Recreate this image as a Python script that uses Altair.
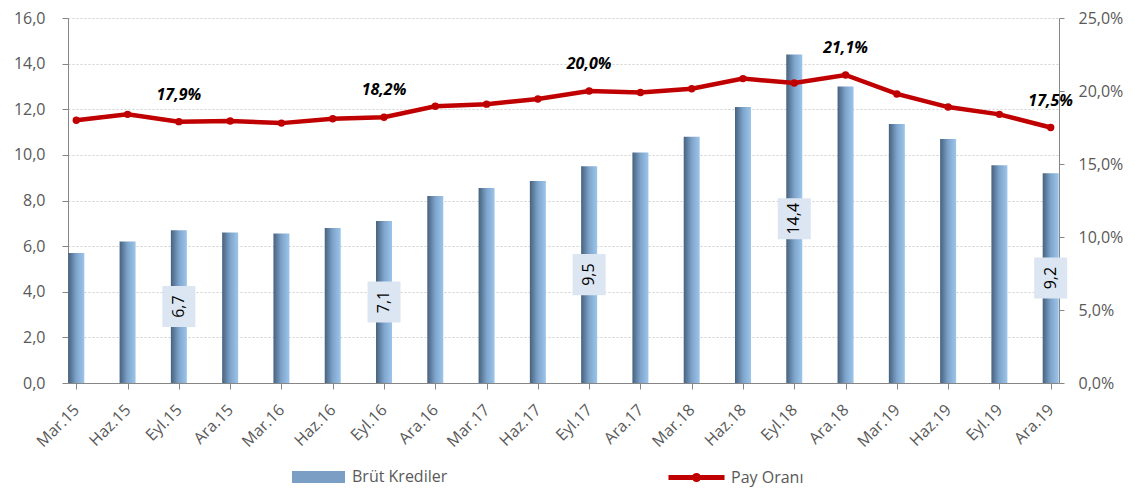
import altair as alt
import pandas as pd

categories = ["Mar.15", "Haz.15", "Eyl.15", "Ara.15", "Mar.16", "Haz.16", "Eyl.16", "Ara.16",
              "Mar.17", "Haz.17", "Eyl.17", "Ara.17", "Mar.18", "Haz.18", "Eyl.18", "Ara.18",
              "Mar.19", "Haz.19", "Eyl.19", "Ara.19"]
krediler = [5.7, 6.2, 6.7, 6.6, 6.55, 6.8, 7.1, 8.2, 8.55, 8.85, 9.5, 10.1, 10.8, 12.1, 14.4,
            13.0, 11.35, 10.7, 9.55, 9.2]
pay_orani = [18.0, 18.4, 17.9, 17.95, 17.8, 18.1, 18.2, 18.95, 19.1, 19.45, 20.0, 19.9, 20.15,
             20.85, 20.55, 21.1, 19.8, 18.9, 18.4, 17.5]
bar_label_at = ["Eyl.15", "Eyl.16", "Eyl.17", "Eyl.18", "Ara.19"]
pay_label_at = ["Eyl.15", "Eyl.16", "Eyl.17", "Ara.18", "Ara.19"]
left_ticks = [0, 2, 4, 6, 8, 10, 12, 14, 16]
right_ticks = [0, 5, 10, 15, 20, 25]
series_names = ["Brüt Krediler", "Pay Oranı"]

df = pd.DataFrame({
    "cat": categories,
    "kredi": krediler,
    "pay": pay_orani,
    "bar_lab": [c in bar_label_at for c in categories],
    "pay_lab": [c in pay_label_at for c in categories],
    "s_bar": series_names[0],
    "s_line": series_names[1],
})

FONT = "Open Sans"
GRAY = "#595959"
AXIS_GRAY = "#868686"
RED = "#C00000"

x_enc = alt.X(
    "cat:N", sort=categories,
    scale=alt.Scale(type="point", padding=0.162),
    axis=alt.Axis(title=None, labelAngle=-45, labelAlign="right", labelBaseline="middle",
                  labelPadding=18, labelFont=FONT, labelFontSize=16, labelColor=GRAY,
                  domainColor=AXIS_GRAY, tickColor=AXIS_GRAY, tickSize=6, grid=False),
)

y_left_scale = alt.Scale(domain=[0, 16], nice=False)
y_right_scale = alt.Scale(domain=[0, 25], nice=False)

left_axis = alt.Axis(title=None, orient="left", values=left_ticks,
                     labelExpr="replace(format(datum.value, '.1f'), '.', ',')",
                     labelFont=FONT, labelFontSize=16, labelColor=GRAY, labelPadding=17,
                     domainColor=AXIS_GRAY, tickColor=AXIS_GRAY, tickSize=6,
                     grid=True, gridColor="#D0D0D0", gridDash=[2, 2],
                     minExtent=60, maxExtent=60)

right_axis = alt.Axis(title=None, orient="right", values=right_ticks,
                      labelExpr="replace(format(datum.value, '.1f'), '.', ',') + '%'",
                      labelFont=FONT, labelFontSize=16, labelColor=GRAY, labelPadding=14,
                      domainColor=AXIS_GRAY, tickColor=AXIS_GRAY, tickSize=5,
                      grid=False)

base = alt.Chart(df)

bars = base.mark_bar(
    width=16,
    color=alt.Gradient(gradient="linear",
                       stops=[alt.GradientStop(color="#46617E", offset=0),
                              alt.GradientStop(color="#7EA4CB", offset=0.5),
                              alt.GradientStop(color="#9DC5EA", offset=1)],
                       x1=0, x2=1, y1=0, y2=0),
).encode(
    x=x_enc,
    y=alt.Y("kredi:Q", scale=y_left_scale, axis=left_axis),
)

legend_dummy = base.mark_point(filled=True, opacity=0).encode(
    x=x_enc,
    y=alt.Y("kredi:Q", scale=y_left_scale, axis=left_axis),
    fill=alt.Fill("s_bar:N",
                  scale=alt.Scale(domain=[series_names[0]], range=["#7A9EC4"]),
                  legend=alt.Legend(title=None, orient="none", legendX=242.5, legendY=451,
                                    symbolType="M-4.42,-1H4.42V1H-4.42Z", symbolSize=144,
                                    symbolOpacity=1, symbolStrokeWidth=0,
                                    labelOffset=25.5, labelFont=FONT, labelFontSize=16,
                                    labelColor=GRAY, padding=0)),
)

bar_lab_base = base.transform_filter("datum.bar_lab").transform_calculate(
    mid="datum.kredi / 2", lo="datum.kredi / 2 - 0.9", hi="datum.kredi / 2 + 0.9",
    txt="replace(format(datum.kredi, '.1f'), '.', ',')",
)

boxes = bar_lab_base.mark_bar(width=33, color="#DCE6F2").encode(
    x=x_enc,
    y=alt.Y("lo:Q", scale=y_left_scale, axis=left_axis),
    y2="hi:Q",
)

bar_text = bar_lab_base.mark_text(angle=270, align="center", baseline="middle",
                                  font=FONT, fontSize=16, color="#000000").encode(
    x=x_enc,
    y=alt.Y("mid:Q", scale=y_left_scale, axis=left_axis),
    text="txt:N",
)

line = base.mark_line(strokeWidth=4.5).encode(
    x=x_enc,
    y=alt.Y("pay:Q", scale=y_right_scale, axis=right_axis),
    stroke=alt.Stroke("s_line:N",
                      scale=alt.Scale(domain=[series_names[1]], range=[RED]),
                      legend=alt.Legend(title=None, orient="none", legendX=620, legendY=451,
                                        symbolType="M-4.67,0H4.67M0.35,0A0.35,0.35 0 1,1 -0.35,0A0.35,0.35 0 1,1 0.35,0Z",
                                        symbolSize=144, symbolStrokeWidth=5,
                                        symbolFillColor=RED, symbolStrokeColor=RED,
                                        labelOffset=26, labelFont=FONT, labelFontSize=16,
                                        labelColor=GRAY, padding=0)),
)

points = base.mark_circle(size=55, color=RED, opacity=1).encode(
    x=x_enc,
    y=alt.Y("pay:Q", scale=y_right_scale, axis=right_axis),
)

pay_text = base.transform_filter("datum.pay_lab").transform_calculate(
    txt="replace(format(datum.pay, '.1f'), '.', ',') + '%'"
).mark_text(dy=-27, align="center", baseline="middle", font=FONT, fontSize=16,
            fontWeight="bold", fontStyle="italic", color="#000000").encode(
    x=x_enc,
    y=alt.Y("pay:Q", scale=y_right_scale, axis=right_axis),
    text="txt:N",
)

left = alt.layer(bars, legend_dummy, boxes, bar_text)
right = alt.layer(line, points, pay_text)

chart = alt.layer(left, right).resolve_scale(y="independent").properties(
    width=991, height=365,
    padding={"left": 0, "top": 2, "right": 0, "bottom": 0},
).configure_view(stroke=None)

chart.save("out.html", embed_options={"renderer": "svg", "actions": False})
